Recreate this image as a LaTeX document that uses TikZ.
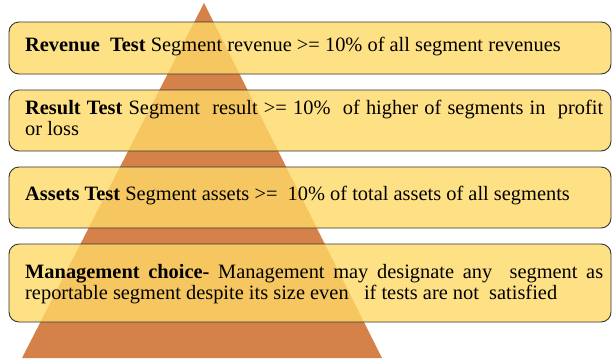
\documentclass[tikz,border=0pt]{standalone}
\usepackage{fontspec}
\setmainfont{Liberation Serif}
\definecolor{tri}{HTML}{D4824A}
\definecolor{boxy}{HTML}{FFD966}
\definecolor{edge}{HTML}{333333}
\begin{document}
\begin{tikzpicture}[x=1bp,y=-1bp,
  tbox/.style={draw=edge, line width=0.9bp, fill=boxy, fill opacity=0.8, text opacity=1, rounded corners=10bp},
  txt/.style={anchor=west, inner sep=0pt, text width=578bp, align=justify, font=\fontsize{20.4bp}{21bp}\selectfont}]
\useasboundingbox (0,0) rectangle (613,361);
\fill[tri] (204,3) coordinate (apex) -- (382,358) coordinate (br) -- (22,358) coordinate (bl) -- cycle;
\draw[tbox] (9,22) rectangle (611,74) coordinate (b1);
\draw[tbox] (9,90) rectangle (611,151) coordinate (b2);
\draw[tbox] (9,167) rectangle (611,228) coordinate (b3);
\draw[tbox] (9,244) rectangle (611,322) coordinate (b4);
\node[txt] (t1) at (25,47) {\textbf{Revenue\ \ Test} Segment revenue >= 10\% of all segment revenues};
\node[txt] (t2) at (25,118) {\textbf{Result Test} Segment\ \ result >= 10\%\ \ of higher of segments in\ \ profit\linebreak or loss};
\node[txt] (t3) at (25,196) {\textbf{Assets Test} Segment assets >=\ \ 10\% of total assets of all segments};
\node[txt] (t4) at (25,284) {\textbf{Management choice-} Management may designate any\ \ segment as\linebreak reportable segment despite its size even\ \ \ if tests are not\ \ satisfied};
\end{tikzpicture}
\end{document}
